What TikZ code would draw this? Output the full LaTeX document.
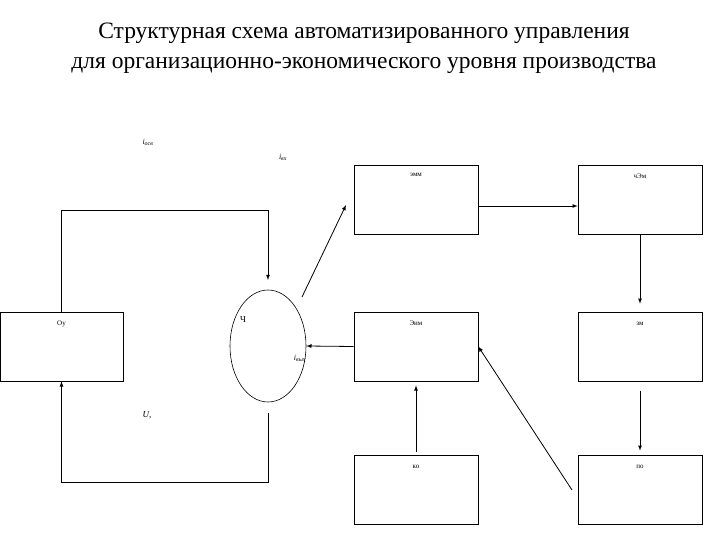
\documentclass[tikz,border=0pt]{standalone}
\usepackage{fontspec}
\setmainfont{Liberation Serif}
\usetikzlibrary{shapes.geometric}
\begin{document}
\begin{tikzpicture}[x=1pt,y=-1pt,
 blk/.style={draw,line width=0.6pt,minimum width=124pt,minimum height=69pt,inner sep=0pt},
 lab/.style={font=\fontsize{7}{8}\selectfont},
 ilab/.style={font=\itshape\fontsize{8}{9}\selectfont},
 conn/.style={line width=0.8pt},
 arr/.style={conn,-latex}]
\useasboundingbox (0,0) rectangle (720,540);
\node[align=center,font=\fontsize{23.5}{30}\selectfont] (title) at (364,48) {Структурная схема автоматизированного управления\\для организационно-экономического уровня производства};
\node[blk,minimum width=123pt] (oy) at (61.5,346.5) {};
\node[blk] (emm) at (416,199.5) {};
\node[blk] (chem) at (640,199.5) {};
\node[blk] (eim) at (416,346.5) {};
\node[blk] (zm) at (640,346.5) {};
\node[blk] (ko) at (416,489.5) {};
\node[blk] (po) at (640,489.5) {};
\node[lab] (loy) at ([yshift=-12pt]oy.north) {Оу};
\node[lab] (lemm) at ([yshift=-10pt]emm.north) {эмм};
\node[lab] (lchem) at ([yshift=-12pt]chem.north) {чЭм};
\node[lab] (leim) at ([yshift=-12pt]eim.north) {Эим};
\node[lab] (lzm) at ([yshift=-12pt]zm.north) {зм};
\node[lab] (lko) at ([yshift=-12pt]ko.north) {ко};
\node[lab] (lpo) at ([yshift=-12pt]po.north) {по};
\node[draw,ellipse,line width=0.6pt,minimum width=76pt,minimum height=112pt,inner sep=0pt] (ch) at (268,346) {};
\node[font=\small] (lch) at (243,320) {Ч};
\node[ilab] (iosv) at (148,142) {i\textsubscript{осв}};
\node[ilab] (ivx) at (283,157) {i\textsubscript{вх}};
\node[ilab] (ivyx) at (300,358) {i\textsubscript{вых}};
\node[font=\small\itshape] (u) at (147,415) {U,};
\coordinate (t1) at (268,280);
\coordinate (b1) at (268,413);
\draw[arr] (oy.north) -- (61.5,210) -| (t1);
\draw[arr] (b1) -- (268,482) -| (oy.south);
\coordinate (c1) at (302,297);
\coordinate (c2) at (346,205);
\draw[arr] (c1) -- (c2);
\draw[arr] (emm.east |- 0,206) -- (chem.west |- 0,206);
\draw[arr] (chem.south) -- ([yshift=8pt]zm.north);
\draw[arr] ([yshift=-10pt]zm.south) -- ([yshift=4pt]po.north);
\draw[arr] ([yshift=3pt]ko.north) -- ([yshift=-4pt]eim.south);
\coordinate (d1) at (572,490);
\draw[arr] (d1) -- (eim.east);
\draw[arr] (eim.west) -- (ch.east);
\end{tikzpicture}
\end{document}
